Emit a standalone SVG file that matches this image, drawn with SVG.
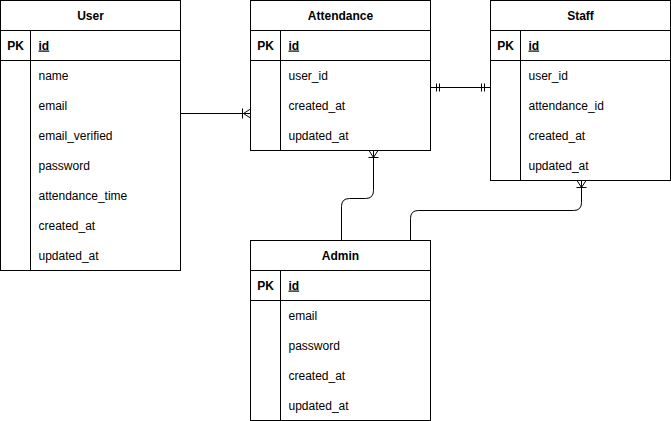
<svg xmlns="http://www.w3.org/2000/svg" width="671" height="421" viewBox="0 0 671 421">
<style>
.box{fill:#fff;stroke:#000;stroke-width:1}
.ln{stroke:#000;stroke-width:1;fill:none}
text{font-family:"Liberation Sans",Arial,Helvetica,sans-serif;font-size:12px;fill:#000}
.t{font-weight:bold;text-anchor:middle}
.pk{font-weight:bold;text-anchor:middle}
.id{font-weight:bold;text-decoration:underline}
</style>
<rect width="671" height="421" fill="#fff"/>
<g id="connectors" class="ln">
  <!-- User -> Attendance -->
  <path d="M180.5,113.5 H250.5"/>
  <path d="M242.5,108.5 V118.5 M250.5,109 L243.5,113.5 L250.5,118"/>
  <!-- Attendance <-> Staff -->
  <path d="M430.5,87.5 H490.5"/>
  <path d="M436.5,83.5 V91.5 M439.5,83.5 V91.5 M481.5,83.5 V91.5 M484.5,83.5 V91.5"/>
  <!-- Admin -> Attendance -->
  <path d="M341.5,240.5 V206.5 Q341.5,198.5 349.5,198.5 H365.5 Q373.5,198.5 373.5,190.5 V150.5"/>
  <path d="M368.5,157.5 H378.5 M369,150.5 L373.5,157.5 L378,150.5"/>
  <!-- Admin -> Staff -->
  <path d="M410.5,240.5 V218.5 Q410.5,210.5 418.5,210.5 H573.5 Q581.5,210.5 581.5,202.5 V180.5"/>
  <path d="M576.5,187.5 H586.5 M577,180.5 L581.5,187.5 L586,180.5"/>
</g>
<g id="User">
  <rect class="box" x="0.5" y="0.5" width="180" height="270"/>
  <path class="ln" d="M0.5,30.5 H180.5 M0.5,60.5 H180.5 M30.5,30.5 V270.5"/>
  <text class="t" x="90.5" y="19.5">User</text>
  <text class="pk" x="15.5" y="49.5">PK</text>
  <text class="id" x="38.5" y="49.5">id</text>
  <text x="38.5" y="79.5">name</text>
  <text x="38.5" y="109.5">email</text>
  <text x="38.5" y="139.5">email_verified</text>
  <text x="38.5" y="169.5">password</text>
  <text x="38.5" y="199.5">attendance_time</text>
  <text x="38.5" y="229.5">created_at</text>
  <text x="38.5" y="259.5">updated_at</text>
</g>
<g id="Attendance">
  <rect class="box" x="250.5" y="0.5" width="180" height="150"/>
  <path class="ln" d="M250.5,30.5 H430.5 M250.5,60.5 H430.5 M280.5,30.5 V150.5"/>
  <text class="t" x="340.5" y="19.5">Attendance</text>
  <text class="pk" x="265.5" y="49.5">PK</text>
  <text class="id" x="288.5" y="49.5">id</text>
  <text x="288.5" y="79.5">user_id</text>
  <text x="288.5" y="109.5">created_at</text>
  <text x="288.5" y="139.5">updated_at</text>
</g>
<g id="Staff">
  <rect class="box" x="490.5" y="0.5" width="180" height="180"/>
  <path class="ln" d="M490.5,30.5 H670.5 M490.5,60.5 H670.5 M520.5,30.5 V180.5"/>
  <text class="t" x="580.5" y="19.5">Staff</text>
  <text class="pk" x="505.5" y="49.5">PK</text>
  <text class="id" x="528.5" y="49.5">id</text>
  <text x="528.5" y="79.5">user_id</text>
  <text x="528.5" y="109.5">attendance_id</text>
  <text x="528.5" y="139.5">created_at</text>
  <text x="528.5" y="169.5">updated_at</text>
</g>
<g id="Admin">
  <rect class="box" x="250.5" y="240.5" width="180" height="180"/>
  <path class="ln" d="M250.5,270.5 H430.5 M250.5,300.5 H430.5 M280.5,270.5 V420.5"/>
  <text class="t" x="340.5" y="259.5">Admin</text>
  <text class="pk" x="265.5" y="289.5">PK</text>
  <text class="id" x="288.5" y="289.5">id</text>
  <text x="288.5" y="319.5">email</text>
  <text x="288.5" y="349.5">password</text>
  <text x="288.5" y="379.5">created_at</text>
  <text x="288.5" y="409.5">updated_at</text>
</g>
</svg>
